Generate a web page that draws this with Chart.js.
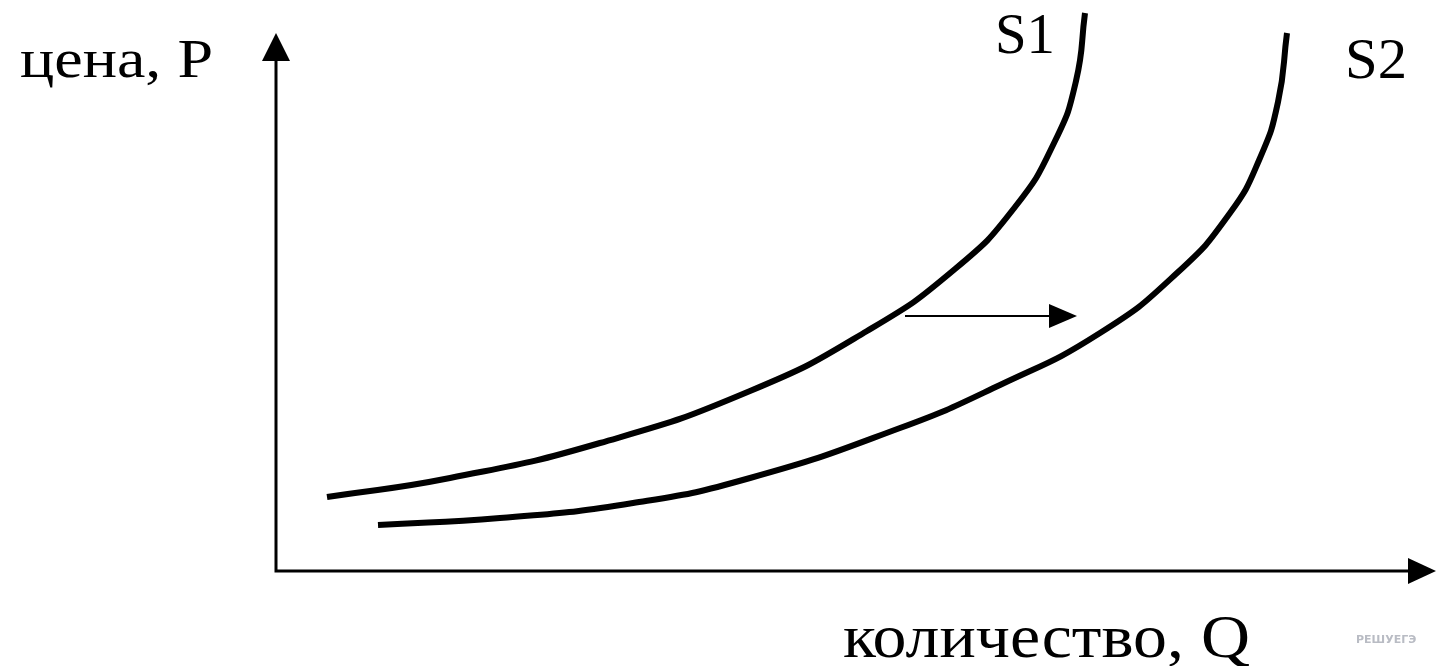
<!DOCTYPE html>
<html>
<head>
<meta charset="utf-8">
<script src="https://cdn.jsdelivr.net/npm/chart.js@4/dist/chart.umd.min.js"></script>
<style>
  html, body { margin: 0; padding: 0; background: #fff; }
  #wrap { width: 1437px; height: 666px; position: relative; }
</style>
</head>
<body>
<div id="wrap"><canvas id="chart"></canvas></div>
<script>
// supply curves, quantity Q vs price P (schematic units)
const s1Q = [51, 174, 324, 474, 591, 679, 739, 779, 800, 809];
const s1P = [74, 93, 128, 180, 240, 302, 364, 430, 490, 558];
const s2Q = [102, 224, 357, 474, 624, 724, 824, 901, 954, 984, 1002, 1011];
const s2P = [46, 53, 68, 93, 143, 186, 238, 298, 358, 413, 469, 538];

const seriesLabels = ['S1', 'S2'];
const axisLabels = ['цена, P', 'количество, Q'];

// shift arrow S1 -> S2
const shiftFrom = 629;
const shiftTo = 801;
const shiftLevel = 255;

const qMax = 1161;
const pMax = 571;

function toPoints(qs, ps) {
    return qs.map((q, i) => ({ x: q, y: ps[i] }));
}

function arrowHead(ctx, x, y, dir, len, half) {
    ctx.beginPath();
    if (dir === 'up') {
        ctx.moveTo(x, y);
        ctx.lineTo(x - half, y + len);
        ctx.lineTo(x + half, y + len);
    } else {
        ctx.moveTo(x, y);
        ctx.lineTo(x - len, y - half);
        ctx.lineTo(x - len, y + half);
    }
    ctx.closePath();
    ctx.fill();
}

// text stretched to the width it has in the scan
function drawText(ctx, text, left, right, baseline, size) {
    ctx.font = size + 'px "Liberation Serif", "DejaVu Serif", serif';
    const w = ctx.measureText(text).width;
    const sx = (right - left) / w;
    ctx.save();
    ctx.translate(left, baseline);
    ctx.scale(sx, 1);
    ctx.fillText(text, 0, 0);
    ctx.restore();
}

const decorations = {
    id: 'decorations',
    afterDatasetsDraw(chart) {
        const ctx = chart.ctx;
        const xs = chart.scales.x;
        const ys = chart.scales.y;
        const x0 = xs.getPixelForValue(0);
        const y0 = ys.getPixelForValue(0);
        ctx.save();
        ctx.strokeStyle = '#000';
        ctx.fillStyle = '#000';

        // axes
        ctx.lineWidth = 3;
        ctx.beginPath();
        ctx.moveTo(x0, y0 + 1.5);
        ctx.lineTo(x0, 50);
        ctx.moveTo(x0 - 1.5, y0);
        ctx.lineTo(1415, y0);
        ctx.stroke();
        arrowHead(ctx, x0, 33, 'up', 28, 14);
        arrowHead(ctx, 1436, y0, 'right', 28, 13);

        // shift arrow
        const ay = ys.getPixelForValue(shiftLevel);
        const ax1 = xs.getPixelForValue(shiftFrom);
        const ax2 = xs.getPixelForValue(shiftTo);
        ctx.lineWidth = 2;
        ctx.beginPath();
        ctx.moveTo(ax1, ay);
        ctx.lineTo(ax2 - 20, ay);
        ctx.stroke();
        arrowHead(ctx, ax2, ay, 'right', 28, 12);

        // texts
        ctx.textBaseline = 'alphabetic';
        ctx.textAlign = 'left';
        drawText(ctx, axisLabels[0], 20, 213, 77, 54);
        drawText(ctx, axisLabels[1], 843, 1250, 657, 62);
        drawText(ctx, seriesLabels[0], 995, 1055, 53, 56);
        drawText(ctx, seriesLabels[1], 1345, 1407, 78, 56);

        ctx.fillStyle = '#b9bcc4';
        ctx.font = 'bold 11px "DejaVu Sans", sans-serif';
        ctx.fillText('РЕШУЕГЭ', 1356, 643);
        ctx.restore();
    }
};

new Chart(document.getElementById('chart'), {
    type: 'line',
    data: {
        datasets: [
            {
                label: seriesLabels[0],
                data: toPoints(s1Q, s1P),
                borderColor: '#000',
                borderWidth: 6,
                pointRadius: 0,
                tension: 0.5,
                fill: false
            },
            {
                label: seriesLabels[1],
                data: toPoints(s2Q, s2P),
                borderColor: '#000',
                borderWidth: 6,
                pointRadius: 0,
                tension: 0.5,
                fill: false
            }
        ]
    },
    options: {
        responsive: true,
        maintainAspectRatio: false,
        animation: false,
        layout: { padding: { left: 276, top: 0, right: 0, bottom: 95 } },
        plugins: { legend: { display: false }, tooltip: { enabled: false } },
        scales: {
            x: { type: 'linear', min: 0, max: qMax, display: false },
            y: { type: 'linear', min: 0, max: pMax, display: false }
        }
    },
    plugins: [decorations]
});
</script>
</body>
</html>
